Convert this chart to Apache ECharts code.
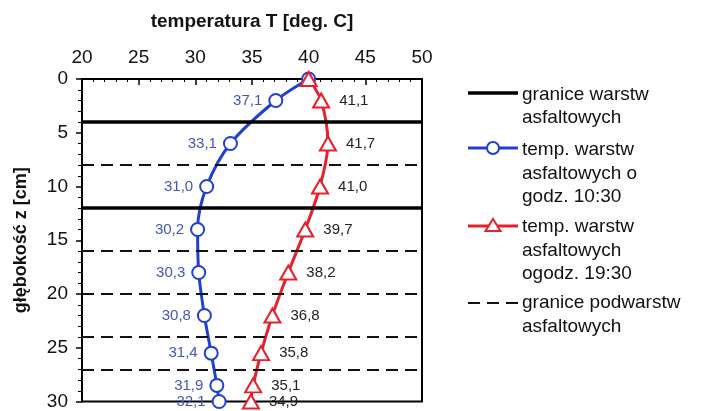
<!DOCTYPE html>
<html>
<head>
<meta charset="utf-8">
<script src="https://cdn.jsdelivr.net/npm/echarts@6/dist/echarts.min.js"></script>
<style>html,body{margin:0;padding:0;background:#fff;}#c{width:701px;height:411px;}</style>
</head>
<body>
<div id="c"></div>
<script>
var depths = [0, 2, 6, 10, 14, 18, 22, 25.5, 28.5, 30];
var tempMorning = [40.0, 37.1, 33.1, 31.0, 30.2, 30.3, 30.8, 31.4, 31.9, 32.1];
var tempEvening = [40.0, 41.1, 41.7, 41.0, 39.7, 38.2, 36.8, 35.8, 35.1, 34.9];
var layerBoundaries = [4, 12];
var sublayerBoundaries = [8, 16, 20, 24, 27];
var xTicks = { min: 20, max: 50, step: 5 };
var yTicks = { min: 0, max: 30, step: 5 };

var FONT = '"Liberation Sans", Arial, sans-serif';
var BLUE = '#2040d0';
var RED = '#e8202c';

function pairs(t) { return t.map(function (v, i) { return [v, depths[i]]; }); }
function fmt(p) { return p.dataIndex === 0 ? '' : p.value[0].toFixed(1).replace('.', ','); }

var chart = echarts.init(document.getElementById('c'), null, { renderer: 'canvas' });
chart.setOption({
  animation: false,
  backgroundColor: '#fff',
  grid: { left: 82, right: 279, top: 79, bottom: 5, show: true, borderColor: '#000', borderWidth: 2 },
  xAxis: {
    type: 'value', position: 'top', min: xTicks.min, max: xTicks.max, interval: xTicks.step,
    name: 'temperatura T [deg. C]', nameLocation: 'middle', nameGap: 48,
    nameTextStyle: { fontFamily: FONT, fontSize: 19, fontWeight: 'bold', color: '#111' },
    axisLine: { lineStyle: { color: '#000', width: 2 } },
    axisTick: { inside: true, length: 6, lineStyle: { color: '#000', width: 1.5 } },
    minorTick: { show: true, splitNumber: 5, length: 3, lineStyle: { color: '#000', width: 1 } },
    axisLabel: { fontFamily: FONT, fontSize: 19, color: '#111', margin: 12 },
    splitLine: { show: false }
  },
  yAxis: {
    type: 'value', inverse: true, min: yTicks.min, max: yTicks.max, interval: yTicks.step,
    name: 'głębokość z [cm]', nameLocation: 'middle', nameGap: 52,
    nameTextStyle: { fontFamily: FONT, fontSize: 18, fontWeight: 'bold', color: '#111' },
    axisLine: { lineStyle: { color: '#000', width: 2 } },
    axisTick: { inside: false, length: 6, lineStyle: { color: '#000', width: 1.5 } },
    minorTick: { show: true, splitNumber: 5, length: 4, lineStyle: { color: '#000', width: 1 } },
    axisLabel: { fontFamily: FONT, fontSize: 19, color: '#111', margin: 14 },
    splitLine: { show: false }
  },
  series: [
    {
      name: 'granice warstw', type: 'line', data: [], silent: true,
      markLine: {
        silent: true, symbol: 'none', label: { show: false },
        lineStyle: { color: '#000', width: 3.5, type: 'solid' },
        data: layerBoundaries.map(function (d) { return { yAxis: d }; })
      }
    },
    {
      name: 'granice podwarstw', type: 'line', data: [], silent: true,
      markLine: {
        silent: true, symbol: 'none', label: { show: false },
        lineStyle: { color: '#111', width: 2, type: [12, 7] },
        data: sublayerBoundaries.map(function (d) { return { yAxis: d }; })
      }
    },
    {
      name: '10:30', type: 'line', data: pairs(tempMorning), smooth: 0.3,
      symbol: 'circle', symbolSize: 13,
      lineStyle: { color: BLUE, width: 3 },
      itemStyle: { color: '#fff', borderColor: BLUE, borderWidth: 2 },
      label: { show: true, position: 'left', distance: 6, formatter: fmt,
        fontFamily: FONT, fontSize: 15, color: '#4656b4' },
      z: 3
    },
    {
      name: '19:30', type: 'line', data: pairs(tempEvening), smooth: 0.3,
      symbol: 'triangle', symbolSize: [16, 14],
      lineStyle: { color: RED, width: 3 },
      itemStyle: { color: '#fff', borderColor: RED, borderWidth: 2 },
      label: { show: true, position: 'right', distance: 9, formatter: fmt,
        fontFamily: FONT, fontSize: 15, color: '#222' },
      z: 4
    }
  ],
  graphic: [
    { type: 'line', shape: { x1: 468, y1: 93, x2: 518, y2: 93 }, style: { stroke: '#000', lineWidth: 3.5 } },
    { type: 'text', x: 522, y: 83.5, style: { text: 'granice warstw\nasfaltowych', font: '19px ' + FONT, fill: '#111', lineHeight: 23, verticalAlign: 'top' } },

    { type: 'line', shape: { x1: 468, y1: 148, x2: 518, y2: 148 }, style: { stroke: BLUE, lineWidth: 3 } },
    { type: 'circle', shape: { cx: 493, cy: 148, r: 6 }, style: { fill: '#fff', stroke: BLUE, lineWidth: 2 }, z: 10 },
    { type: 'text', x: 522, y: 138.5, style: { text: 'temp. warstw\nasfaltowych o\ngodz. 10:30', font: '19px ' + FONT, fill: '#111', lineHeight: 23.5, verticalAlign: 'top' } },

    { type: 'line', shape: { x1: 468, y1: 226, x2: 518, y2: 226 }, style: { stroke: RED, lineWidth: 3 } },
    { type: 'polygon', shape: { points: [[493, 219], [500.5, 231], [485.5, 231]] }, style: { fill: '#fff', stroke: RED, lineWidth: 2 }, z: 10 },
    { type: 'text', x: 522, y: 215.5, style: { text: 'temp. warstw\nasfaltowych\nogodz. 19:30', font: '19px ' + FONT, fill: '#111', lineHeight: 23.5, verticalAlign: 'top' } },

    { type: 'line', shape: { x1: 468, y1: 303, x2: 518, y2: 303 }, style: { stroke: '#111', lineWidth: 2, lineDash: [12, 7] } },
    { type: 'text', x: 522, y: 291.5, style: { text: 'granice podwarstw\nasfaltowych', font: '19px ' + FONT, fill: '#111', lineHeight: 23.5, verticalAlign: 'top' } }
  ]
});
</script>
</body>
</html>
